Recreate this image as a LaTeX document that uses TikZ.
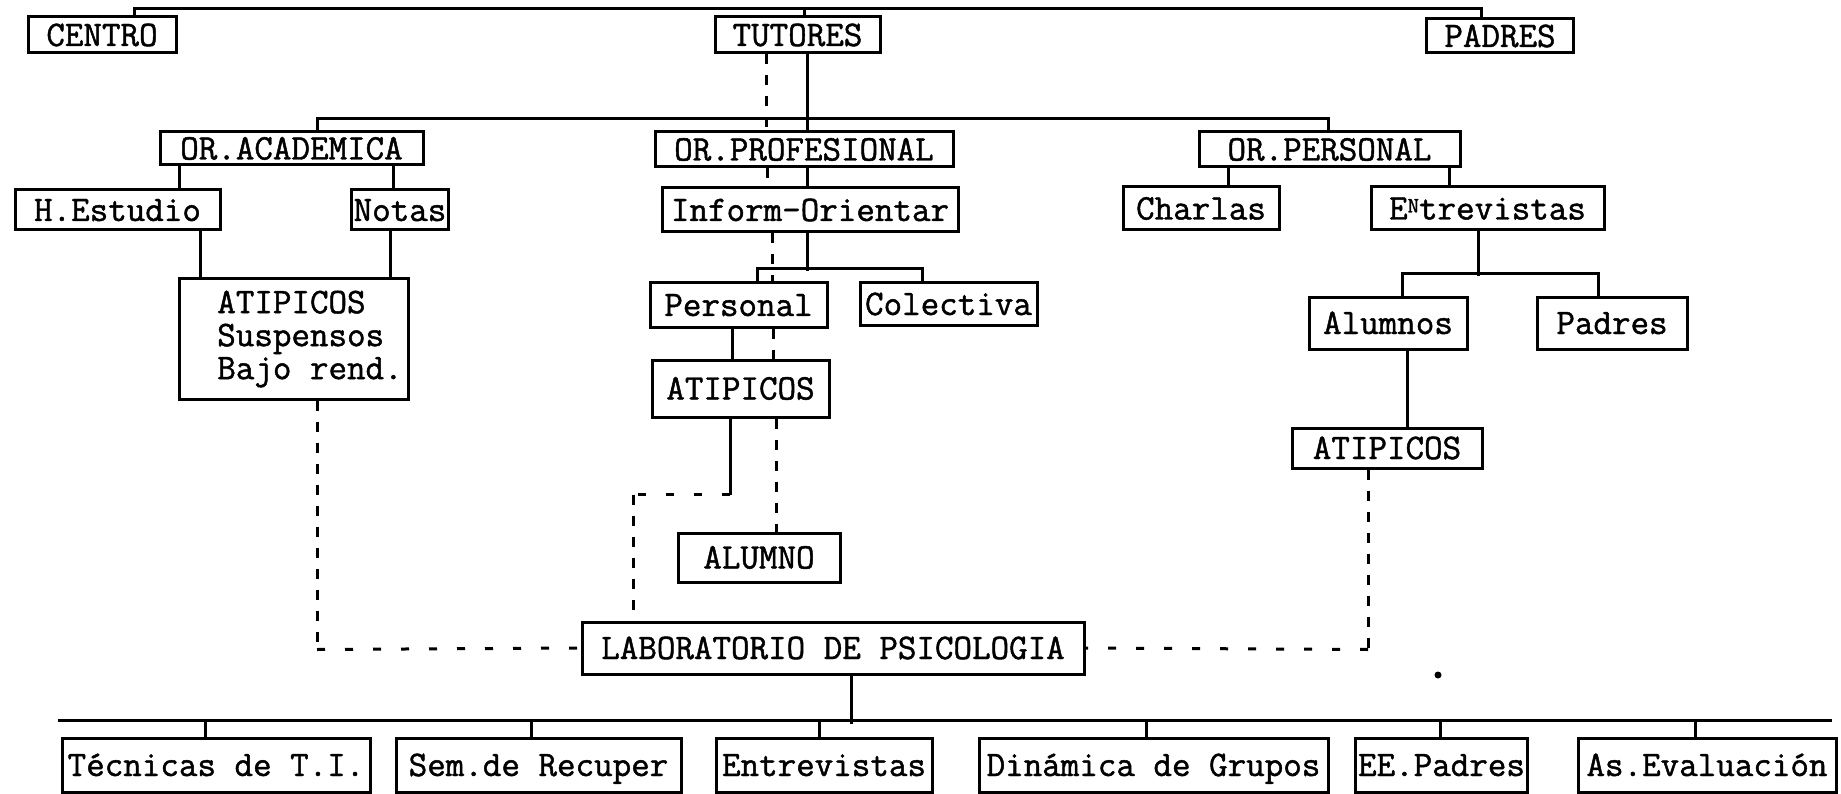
\documentclass[tikz,border=0pt]{standalone}
\usepackage{fontspec}
\newfontfamily\typew[FakeBold=1.3]{Latin Modern Mono}
\usetikzlibrary{calc}
\begin{document}
\begin{tikzpicture}[x=1pt,y=-1pt,
  bx/.style={draw, line width=3pt, inner sep=0pt, text height=22pt, text depth=0pt,
             font=\fontsize{36}{40}\selectfont\typew},
  ln/.style={line width=3pt},
  dv/.style={line width=3pt, dash pattern=on 10pt off 11pt},
  dh/.style={line width=3pt, dash pattern=on 8pt off 20pt}]
\useasboundingbox (0,0) rectangle (1841,794);

% level 0
\node[bx, minimum width=148pt, minimum height=36pt] (centro)  at (102,35)    {CENTRO};
\node[bx, minimum width=165pt, minimum height=36pt] (tutores) at (797.5,35)  {TUTORES};
\node[bx, minimum width=147pt, minimum height=34pt] (padres)  at (1500,36)   {PADRES};

% level 1
\node[bx, minimum width=263pt, minimum height=33pt] (orac)   at (291.5,148.5)  {OR.ACADEMICA};
\node[bx, minimum width=298pt, minimum height=35pt] (orprof) at (804,149.5)    {OR.PROFESIONAL};
\node[bx, minimum width=261pt, minimum height=35pt] (orper)  at (1329.5,149.5) {OR.PERSONAL};

% level 2
\node[bx, minimum width=205pt, minimum height=40pt] (hest)    at (117.5,210)  {H.Estudio};
\node[bx, minimum width=97pt,  minimum height=40pt] (notas)   at (400,210)    {Notas};
\node[bx, minimum width=296pt, minimum height=44pt] (inform)  at (810,210)    {Inform-Orientar};
\node[bx, minimum width=156pt, minimum height=43pt] (charlas) at (1201,208.5) {Charlas};
\node[bx, minimum width=233pt, minimum height=43pt] (entrev)  at (1487.5,208.5)
  {E\raisebox{7pt}{\fontsize{22}{22}\selectfont N}trevistas};

% level 3
\node[bx, minimum width=229pt, minimum height=120pt, align=left, text height=, text depth=,
      font=\fontsize{36}{33}\selectfont\typew] (atl) at (293.5,339)
  {\hspace*{33pt}ATIPICOS\\\hspace*{33pt}Suspensos\\\hspace*{33pt}Bajo rend.};
\node[bx, minimum width=177pt, minimum height=44pt] (personal)  at (738.5,305) {Personal};
\node[bx, minimum width=177pt, minimum height=42pt] (colectiva) at (948.5,304) {Colectiva};
\node[bx, minimum width=177pt, minimum height=57pt] (atm)       at (740.5,388.5) {ATIPICOS};
\node[bx, minimum width=162pt, minimum height=49pt] (alumno)    at (759,557.5) {ALUMNO};
\node[bx, minimum width=158pt, minimum height=52pt] (alumnos)   at (1388,323)  {Alumnos};
\node[bx, minimum width=150pt, minimum height=52pt] (padres2)   at (1612,323)  {Padres};
\node[bx, minimum width=190pt, minimum height=40pt] (atr)       at (1387,448)  {ATIPICOS};

% laboratory
\node[bx, minimum width=502pt, minimum height=52pt] (lab) at (833,648) {LABORATORIO DE PSICOLOGIA};

% bottom row
\node[bx, minimum width=308pt, minimum height=54pt] (tec) at (216,765)    {Técnicas de T.I.};
\node[bx, minimum width=285pt, minimum height=54pt] (sem) at (538.5,765)  {Sem.de Recuper};
\node[bx, minimum width=216pt, minimum height=54pt] (ent) at (824,765)    {Entrevistas};
\node[bx, minimum width=349pt, minimum height=54pt] (din) at (1153.5,765) {Dinámica de Grupos};
\node[bx, minimum width=172pt, minimum height=54pt] (eep) at (1441.5,765) {EE.Padres};
\node[bx, minimum width=258pt, minimum height=54pt] (ase) at (1707,765)   {As.Evaluación};

% ---- connectors ----
% top bus
\draw[ln] ([xshift=32pt]centro.north) -- ++(0,-7) -| ([xshift=-19pt]padres.north);
\draw[ln] ([xshift=6.5pt]tutores.north) -- ++(0,-7);

% tutores to level 1
\draw[ln] ([xshift=9.5pt]tutores.south) -- ([xshift=3pt]orprof.north);
\draw[dv] ([xshift=-31.5pt]tutores.south) -- ([xshift=-38pt]orprof.north);
\draw[ln] ([xshift=25.5pt]orac.north) -- ++(0,-12) -| ([xshift=-1.5pt]orper.north);

% level 1 to level 2
\draw[ln] ([xshift=-112.5pt]orac.south) -- ([xshift=61.5pt]hest.north);
\draw[ln] ([xshift=101.5pt]orac.south) -- ([xshift=-7pt]notas.north);
\draw[ln] ([xshift=3pt]orprof.south) -- ([xshift=-3pt]inform.north);
\draw[dv] ([xshift=-37pt]orprof.south) -- ([xshift=-43pt]inform.north);
\draw[ln] ([xshift=-101.5pt]orper.south) -- ([xshift=27pt]charlas.north);
\draw[ln] ([xshift=119.5pt]orper.south) -- ([xshift=-38.5pt]entrev.north);

% left branch
\draw[ln] ([xshift=82.5pt]hest.south) -- ([xshift=-93.5pt]atl.north);
\draw[ln] ([xshift=-10pt]notas.south) -- ([xshift=96.5pt]atl.north);

% middle branch
\draw[ln] ([xshift=-3pt]inform.south) -- ++(0,38);
\draw[ln] ([xshift=18.5pt]personal.north) -- ++(0,-13) -| ([xshift=-26.5pt]colectiva.north);
\draw[dv] ([xshift=-38pt]inform.south) -- ([xshift=33.5pt]personal.north);
\draw[ln] ([xshift=-6.5pt]personal.south) -- ([xshift=-8.5pt]atm.north);
\draw[dv] ([xshift=34.5pt]personal.south) -- ([xshift=32.5pt]atm.north);
\draw[dv] ([xshift=35.5pt]atm.south) -- ([xshift=17pt]alumno.north);
\draw[ln] ([xshift=-10.5pt]atm.south) -- ++(0,76) coordinate (k1);
\draw[dh] (k1) -- ++(-97,0) coordinate (k2);
\draw[dv] (k2) -- ([xshift=-200pt]lab.north);

% right branch
\draw[ln] ([xshift=-9.5pt]entrev.south) -- ++(0,45);
\draw[ln] ([xshift=14pt]alumnos.north) -- ++(0,-22) -| ([xshift=-14pt]padres2.north);
\draw[ln] ([xshift=19pt]alumnos.south) -- ([xshift=20pt]atr.north);

% dotted links to the laboratory
\draw[dv] ([xshift=23.5pt]atl.south) -- ++(0,249) coordinate (k3);
\draw[dh] (k3) -- (lab.west);
\draw[dv] ([xshift=-19pt]atr.south) -- ++(0,180) coordinate (k4);
\draw[dh] (k4) -- (lab.east);

% laboratory to bottom row
\draw[ln] ([xshift=18pt]lab.south) -- ++(0,48);
\coordinate (busL) at ([shift={(-3,-16)}]tec.north west);
\coordinate (busR) at ([shift={(-6,-16)}]ase.north east);
\draw[ln] (busL) -- (busR);
\foreach \n/\s in {tec/-11, sem/-7.5, ent/-5, din/-7.5, eep/-1.5, ase/-12}
  \draw[ln] ([xshift=\s pt]\n.north) -- ++(0,-16);

% stray dot
\fill (1438,675) circle (3.5pt);
\end{tikzpicture}
\end{document}
